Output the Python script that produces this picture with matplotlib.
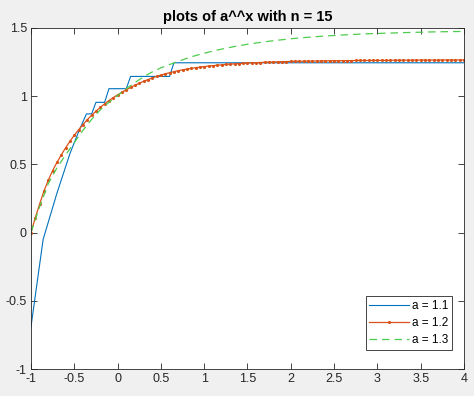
import numpy as np
import matplotlib
matplotlib.use("Agg")
import matplotlib.pyplot as plt

# a = 1.1 (corner points of the piecewise curve)
x_11 = [-1.0, -0.86, -0.70, -0.55, -0.45, -0.36, -0.30, -0.25, -0.15, -0.10, 0.10, 0.15, 0.60, 0.65, 4.0]
y_11 = [-0.69, -0.05, 0.29, 0.58, 0.74, 0.87, 0.87, 0.955, 0.955, 1.055, 1.055, 1.145, 1.145, 1.245, 1.245]

# a = 1.2, sampled every 0.05 from -1 to 4
x_12 = np.linspace(-1, 4, 101)
y_12 = [0.000, 0.110, 0.210, 0.305, 0.385, 0.455, 0.515, 0.570, 0.622, 0.670,
        0.714, 0.754, 0.792, 0.828, 0.860, 0.890, 0.918, 0.944, 0.968, 0.990,
        1.010, 1.029, 1.047, 1.064, 1.080, 1.095, 1.109, 1.122, 1.134, 1.145,
        1.155, 1.164, 1.172, 1.180, 1.187, 1.193, 1.199, 1.204, 1.209, 1.213,
        1.217, 1.221, 1.224, 1.227, 1.230, 1.233, 1.235, 1.237, 1.239, 1.241,
        1.243, 1.245, 1.246, 1.247, 1.249, 1.250, 1.251, 1.252, 1.253, 1.254,
        1.255, 1.256, 1.256, 1.257, 1.257, 1.258, 1.258, 1.259, 1.259, 1.260,
        1.260, 1.260, 1.261, 1.261, 1.261, 1.262, 1.262, 1.262, 1.262, 1.263,
        1.263, 1.263, 1.263, 1.263, 1.264, 1.264, 1.264, 1.264, 1.264, 1.265,
        1.265, 1.265, 1.265, 1.265, 1.265, 1.265, 1.266, 1.266, 1.266, 1.266,
        1.266]

# a = 1.3, sampled every 0.1
x_13 = np.linspace(-1, 4, 51)
y_13 = [0.000, 0.190, 0.360, 0.475, 0.570, 0.660, 0.750, 0.830, 0.900, 0.955,
        1.005, 1.055, 1.100, 1.142, 1.178, 1.208, 1.232, 1.255, 1.278, 1.298,
        1.315, 1.331, 1.345, 1.358, 1.370, 1.381, 1.390, 1.399, 1.407, 1.414,
        1.421, 1.427, 1.432, 1.437, 1.441, 1.445, 1.449, 1.452, 1.455, 1.458,
        1.460, 1.462, 1.464, 1.466, 1.468, 1.469, 1.471, 1.472, 1.473, 1.474,
        1.475]

xticks = [-1, -0.5, 0, 0.5, 1, 1.5, 2, 2.5, 3, 3.5, 4]
yticks = [-1, -0.5, 0, 0.5, 1, 1.5]

plt.rcParams['font.family'] = ['Liberation Sans', 'DejaVu Sans']

fig = plt.figure(figsize=(4.74, 3.96), dpi=100, facecolor='#f0f0f0')
ax = fig.add_axes([31/474, 1-369/396, (464-31)/474, (369-28)/396])

ax.plot(x_11, y_11, color='#0072BD', lw=0.8, label='a = 1.1')
ax.plot(x_12, y_12, color='#D95319', lw=0.9, marker='.', ms=2.5, label='a = 1.2')
ax.plot(x_13, y_13, color='#4dcc4d', lw=0.9, ls=(0, (6, 4)), label='a = 1.3')

ax.set_xlim(-1, 4)
ax.set_ylim(-1, 1.5)
ax.set_xticks(xticks)
ax.set_xticklabels(['%g' % t for t in xticks])
ax.set_yticks(yticks)
ax.set_yticklabels(['%g' % t for t in yticks])
ax.tick_params(direction='in', top=True, right=True, length=4, width=0.6,
               labelsize=9, colors='#262626', pad=3)
for s in ax.spines.values():
    s.set_color('#262626')
    s.set_linewidth(0.6)

ax.set_title('plots of a^^x with n = 15', fontsize=10.5, fontweight='bold', pad=5)

leg = ax.legend(loc='lower right', fontsize=8.5, fancybox=False, framealpha=1,
                edgecolor='#262626', borderpad=0.3, handlelength=3.4,
                handletextpad=0.2, labelspacing=0.45, borderaxespad=0,
                bbox_to_anchor=(0.9716, 0.0557))
leg.get_frame().set_linewidth(0.6)

fig.savefig('out.png', dpi=100, facecolor=fig.get_facecolor())
